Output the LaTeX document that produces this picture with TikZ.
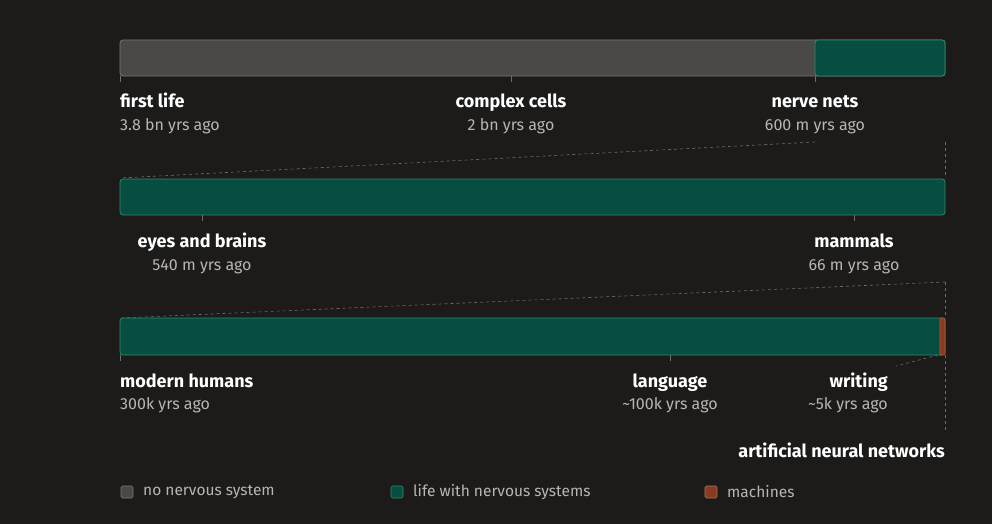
\documentclass[tikz,border=0pt]{standalone}
\usepackage{fontspec}
\setmainfont{Fira Sans}
\definecolor{bgdark}{HTML}{1C1B1A}
\definecolor{nonerv}{HTML}{4A4945}
\definecolor{nonervline}{HTML}{7A7974}
\definecolor{nerv}{HTML}{074D40}
\definecolor{nervline}{HTML}{2E8A6E}
\definecolor{mach}{HTML}{8A3A1E}
\definecolor{subgray}{HTML}{B8B6B0}
\definecolor{guide}{HTML}{6E6D69}
\tikzset{
  bar/.style={rounded corners=3pt, line width=0.8pt},
  tick/.style={draw=guide, line width=0.6pt},
  guideline/.style={draw=guide, dashed, line width=0.6pt},
  event/.style={font=\fontsize{18}{20}\selectfont\bfseries, text=white, inner sep=0pt},
  when/.style={font=\fontsize{16}{18}\selectfont, text=subgray, inner sep=0pt},
  key/.style={rounded corners=1.5pt, line width=0.6pt, minimum size=12pt, inner sep=0pt},
  keytext/.style={font=\fontsize{15.5}{18}\selectfont, text=subgray, inner sep=0pt, anchor=west}
}
\begin{document}
\begin{tikzpicture}[x=1pt, y=-1pt]
\useasboundingbox (0,0) rectangle (992,524);
\fill[bgdark] (0,0) rectangle (992,524);
% guides
\draw[guideline] (815,142) -- (120,178);
\draw[guideline] (945,142) -- (945,178);
\draw[guideline] (945,282) -- (120,318);
\draw[guideline] (945,282) -- (945,318);
\draw[guideline] (938,355) -- (896,366);
\draw[guideline] (945,355) -- (945,432);
% row 1
\draw[bar, fill=nonerv, draw=nonervline] (120,40) rectangle (945,76);
\draw[bar, fill=nerv, draw=nervline] (815,40) rectangle (945,76);
\foreach \tx in {120,511,815} \draw[tick] (\tx,76) -- (\tx,82);
\node[event, anchor=base west] (firstlife) at (120,108) {first life};
\node[when, anchor=base west] (firstlifet) at (120,130) {3.8 bn yrs ago};
\node[event, anchor=base] (cells) at (511,108) {complex cells};
\node[when, anchor=base] (cellst) at (511,130) {2 bn yrs ago};
\node[event, anchor=base] (nets) at (815,108) {nerve nets};
\node[when, anchor=base] (netst) at (815,130) {600 m yrs ago};
% row 2
\draw[bar, fill=nerv, draw=nervline] (120,179) rectangle (945,215);
\foreach \tx in {202,854} \draw[tick] (\tx,215) -- (\tx,221);
\node[event, anchor=base] (eyes) at (202,247) {eyes and brains};
\node[when, anchor=base] (eyest) at (202,270) {540 m yrs ago};
\node[event, anchor=base] (mammals) at (854,247) {mammals};
\node[when, anchor=base] (mammalst) at (854,270) {66 m yrs ago};
% row 3
\draw[bar, fill=nerv, draw=nervline] (120,318) rectangle (945,355);
\fill[mach] (940,318) rectangle (945,355);
\draw[mach!80!white, line width=0.6pt, rounded corners=1pt] (940,318) rectangle (945,355);
\foreach \tx in {120,670} \draw[tick] (\tx,355) -- (\tx,361);
\node[event, anchor=base west] (humans) at (120,387) {modern humans};
\node[when, anchor=base west] (humanst) at (120,409) {300k yrs ago};
\node[event, anchor=base] (language) at (670,387) {language};
\node[when, anchor=base] (languaget) at (670,409) {\textasciitilde100k yrs ago};
\node[event, anchor=base east] (writing) at (888,387) {writing};
\node[when, anchor=base east] (writingt) at (888,409) {\textasciitilde5k yrs ago};
\node[event, anchor=base east] (ann) at (945,457) {artificial neural networks};
% legend
\node[key, fill=nonerv, draw=nonervline] (k1) at (127,492) {};
\node[keytext] (k1t) at (143,492) {no nervous system};
\node[key, fill=nerv, draw=nervline] (k2) at (397,492) {};
\node[keytext] (k2t) at (413,492) {life with nervous systems};
\node[key, fill=mach, draw=mach!70!white] (k3) at (711,492) {};
\node[keytext] (k3t) at (727,492) {machines};
\end{tikzpicture}
\end{document}
